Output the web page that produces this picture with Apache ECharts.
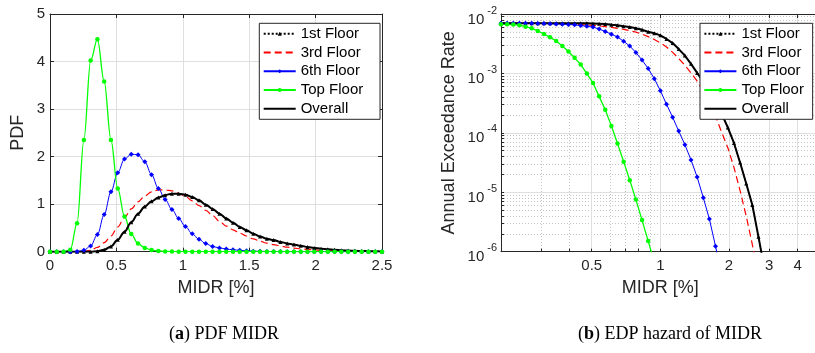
<!DOCTYPE html>
<html><head><meta charset="utf-8">
<script src="https://cdn.jsdelivr.net/npm/echarts@6/dist/echarts.min.js"></script>
<style>html,body{margin:0;padding:0;background:#fff}#c{width:815px;height:353px}</style>
</head><body><div id="c"></div>
<script>
// ---------- data ----------
const seriesNames = ['1st Floor', '3rd Floor', '6th Floor', 'Top Floor', 'Overall'];

// (a) PDF of MIDR
const pdfX = [0, 0.051, 0.102, 0.153, 0.204, 0.255, 0.306, 0.357, 0.408, 0.459, 0.510, 0.561, 0.612, 0.663, 0.714, 0.765, 0.816, 0.867, 0.918, 0.969, 1.020, 1.071, 1.122, 1.173, 1.224, 1.276, 1.327, 1.378, 1.429, 1.480, 1.531, 1.582, 1.633, 1.684, 1.735, 1.786, 1.837, 1.888, 1.939, 1.990, 2.041, 2.092, 2.143, 2.194, 2.245, 2.296, 2.347, 2.398, 2.449, 2.5];
const pdfOverall = [0, 0, 0, 0, 0, 0, 0, 0.01, 0.04, 0.11, 0.25, 0.42, 0.62, 0.80, 0.95, 1.06, 1.14, 1.19, 1.22, 1.22, 1.20, 1.15, 1.08, 0.99, 0.90, 0.80, 0.70, 0.61, 0.52, 0.45, 0.38, 0.32, 0.27, 0.245, 0.205, 0.175, 0.15, 0.125, 0.10, 0.08, 0.063, 0.05, 0.039, 0.03, 0.023, 0.018, 0.014, 0.011, 0.008, 0.006];
const pdf1st = [0, 0, 0, 0, 0, 0, 0, 0.01, 0.04, 0.11, 0.25, 0.42, 0.62, 0.80, 0.95, 1.06, 1.14, 1.19, 1.22, 1.22, 1.20, 1.15, 1.08, 0.99, 0.90, 0.80, 0.70, 0.61, 0.52, 0.45, 0.38, 0.32, 0.27, 0.245, 0.205, 0.175, 0.15, 0.125, 0.10, 0.08, 0.063, 0.05, 0.039, 0.03, 0.023, 0.018, 0.014, 0.011, 0.008, 0.006];
const pdf3rd = [0, 0, 0, 0, 0, 0.005, 0.03, 0.09, 0.19, 0.33, 0.52, 0.72, 0.90, 1.05, 1.17, 1.26, 1.30, 1.30, 1.28, 1.23, 1.16, 1.07, 0.97, 0.87, 0.76, 0.64, 0.54, 0.46, 0.39, 0.33, 0.27, 0.22, 0.18, 0.15, 0.12, 0.095, 0.075, 0.06, 0.047, 0.037, 0.029, 0.022, 0.017, 0.013, 0.01, 0.008, 0.006, 0.004, 0.003, 0.002];
const pdf6th = [0, 0, 0, 0, 0.005, 0.03, 0.12, 0.36, 0.78, 1.26, 1.66, 1.95, 2.05, 2.04, 1.89, 1.62, 1.33, 1.10, 0.89, 0.70, 0.53, 0.375, 0.26, 0.17, 0.11, 0.08, 0.055, 0.04, 0.03, 0.02, 0.012, 0.008, 0.005, 0.003, 0.002, 0.001, 0, 0, 0, 0, 0, 0, 0, 0, 0, 0, 0, 0, 0, 0];
const pdfTop = [0, 0, 0, 0.04, 0.6, 2.35, 4.02, 4.47, 3.58, 2.35, 1.33, 0.74, 0.37, 0.17, 0.08, 0.035, 0.015, 0.006, 0.002, 0.001, 0, 0, 0, 0, 0, 0, 0, 0, 0, 0, 0, 0, 0, 0, 0, 0, 0, 0, 0, 0, 0, 0, 0, 0, 0, 0, 0, 0, 0, 0];

// (b) EDP hazard of MIDR
const hazX = [0.2, 0.2128, 0.2264, 0.2408, 0.2562, 0.2726, 0.29, 0.3086, 0.3283, 0.3492, 0.3716, 0.3953, 0.4206, 0.4474, 0.476, 0.5064, 0.5388, 0.5732, 0.6098, 0.6488, 0.6902, 0.7343, 0.7812, 0.8312, 0.8843, 0.9408, 1.0, 1.064, 1.132, 1.204, 1.281, 1.363, 1.45, 1.543, 1.641, 1.746, 1.858, 1.977, 2.103, 2.237, 2.38, 2.532, 2.694, 2.866, 3.049, 3.244, 3.451, 3.672, 3.906, 4.156, 4.421, 4.704, 5.0];
const hazOverall = [6.97e-3, 6.97e-3, 6.97e-3, 6.97e-3, 6.97e-3, 6.97e-3, 6.97e-3, 6.97e-3, 6.97e-3, 6.97e-3, 6.97e-3, 6.97e-3, 6.97e-3, 6.97e-3, 6.97e-3, 6.93e-3, 6.87e-3, 6.76e-3, 6.6e-3, 6.46e-3, 6.24e-3, 6.03e-3, 5.75e-3, 5.43e-3, 5.01e-3, 4.73e-3, 4.37e-3, 3.80e-3, 3.24e-3, 2.57e-3, 2.0e-3, 1.45e-3, 1.02e-3, 7.24e-4, 5.01e-4, 3.31e-4, 2.09e-4, 1.23e-4, 6.76e-5, 3.16e-5, 1.41e-5, 6.1e-6, 1.78e-6, 5.0e-7];
const haz1st = [6.97e-3, 6.97e-3, 6.97e-3, 6.97e-3, 6.97e-3, 6.97e-3, 6.97e-3, 6.97e-3, 6.97e-3, 6.97e-3, 6.97e-3, 6.97e-3, 6.97e-3, 6.97e-3, 6.97e-3, 6.93e-3, 6.87e-3, 6.76e-3, 6.6e-3, 6.46e-3, 6.24e-3, 6.03e-3, 5.75e-3, 5.43e-3, 5.01e-3, 4.73e-3, 4.37e-3, 3.80e-3, 3.24e-3, 2.57e-3, 2.0e-3, 1.45e-3, 1.02e-3, 7.24e-4, 5.01e-4, 3.31e-4, 2.09e-4, 1.23e-4, 6.76e-5, 3.16e-5, 1.41e-5, 6.1e-6, 1.78e-6, 5.0e-7];
const haz3rd = [6.97e-3, 6.97e-3, 6.97e-3, 6.97e-3, 6.97e-3, 6.97e-3, 6.97e-3, 6.97e-3, 6.97e-3, 6.97e-3, 6.95e-3, 6.92e-3, 6.76e-3, 6.64e-3, 6.53e-3, 6.43e-3, 6.31e-3, 6.14e-3, 5.96e-3, 5.75e-3, 5.52e-3, 5.25e-3, 4.95e-3, 4.57e-3, 4.17e-3, 3.72e-3, 3.27e-3, 2.79e-3, 2.26e-3, 1.78e-3, 1.38e-3, 1.02e-3, 7.41e-4, 5.13e-4, 3.24e-4, 1.91e-4, 1.02e-4, 5.62e-5, 2.63e-5, 1.07e-5, 3.98e-6, 1.32e-6, 4.0e-7];
const haz6th = [6.97e-3, 6.97e-3, 6.97e-3, 6.97e-3, 6.97e-3, 6.97e-3, 6.92e-3, 6.90e-3, 6.84e-3, 6.79e-3, 6.74e-3, 6.66e-3, 6.58e-3, 6.38e-3, 6.21e-3, 6.02e-3, 5.58e-3, 5.09e-3, 4.57e-3, 4.10e-3, 3.48e-3, 2.89e-3, 2.25e-3, 1.68e-3, 1.21e-3, 8.17e-4, 5.13e-4, 3.03e-4, 1.83e-4, 1.07e-4, 6.33e-5, 3.50e-5, 1.81e-5, 8.11e-6, 3.54e-6, 1.24e-6, 4.0e-7];
const hazTop = [6.7e-3, 6.7e-3, 6.65e-3, 6.48e-3, 6.13e-3, 5.74e-3, 5.19e-3, 4.60e-3, 4.05e-3, 3.52e-3, 2.89e-3, 2.34e-3, 1.83e-3, 1.41e-3, 9.93e-4, 6.92e-4, 4.11e-4, 2.45e-4, 1.31e-4, 6.63e-5, 3.27e-5, 1.60e-5, 7.53e-6, 3.40e-6, 1.51e-6, 6.7e-7];

// tick labels
const pdfXTicks = [0, 0.5, 1, 1.5, 2, 2.5];
const pdfYTicks = [0, 1, 2, 3, 4, 5];
const hazXTickLabels = [0.5, 1, 2, 3, 4];
const hazXMinorTicks = [0.2, 0.3, 0.4, 0.5, 0.6, 0.7, 0.8, 0.9, 1, 2, 3, 4, 5];
const hazYTickLabels = [1e-6, 1e-5, 1e-4, 1e-3, 1e-2];

// ---------- chart ----------
const FONT = '"Liberation Sans", Arial, Helvetica, sans-serif';
const SERIF = '"Liberation Serif", "Times New Roman", Times, serif';
const AX = '#262626';
const MAJOR = '#dfdfdf';
const MINOR = '#c4c4c4';

const hazYMinorTicks = [];
for (let d = -6; d <= -3; d++) {
  for (let m = 1; m <= 9; m++) hazYMinorTicks.push(+(m * Math.pow(10, d)).toPrecision(3));
}
hazYMinorTicks.push(1e-2);

const styles = {
  '1st Floor': {color: '#000000', type: 'dotted', width: 1, symbol: 'triangle', size: 4},
  '3rd Floor': {color: '#ff0000', type: [7, 4], width: 1.2, symbol: 'none', size: 0},
  '6th Floor': {color: '#0000ff', type: 'solid', width: 1, symbol: 'diamond', size: 5},
  'Top Floor': {color: '#00ff00', type: 'solid', width: 1.3, symbol: 'circle', size: 4.5},
  'Overall':   {color: '#000000', type: 'solid', width: 2, symbol: 'none', size: 0}
};

function mkSeries(name, data, xi, yi, smooth) {
  const s = styles[name];
  return {
    type: 'line', name: name, xAxisIndex: xi, yAxisIndex: yi, data: data,
    smooth: smooth ? 0.35 : false, smoothMonotone: smooth ? 'x' : undefined,
    symbol: s.symbol, symbolSize: s.size, showSymbol: s.symbol !== 'none',
    lineStyle: {color: s.color, width: s.width, type: s.type},
    itemStyle: {color: s.color, borderWidth: 0},
    emphasis: {disabled: true}, clip: true, animation: false
  };
}
const zipXY = (xs, ys) => ys.map((v, i) => [xs[i], v]);

const pdfSets = [pdf1st, pdf3rd, pdf6th, pdfTop, pdfOverall];
const hazSets = [haz1st, haz3rd, haz6th, hazTop, hazOverall];
const series = [];
seriesNames.forEach((n, i) => series.push(mkSeries(n, zipXY(pdfX, pdfSets[i]), 0, 0, true)));
seriesNames.forEach((n, i) => series.push(mkSeries(n, zipXY(hazX, hazSets[i]), 2, 2, false)));

const tickStyle = {show: true, inside: true, length: 4, lineStyle: {color: AX, width: 1}};
const lineStyleAx = {show: true, onZero: false, lineStyle: {color: AX, width: 1}};
const labelStyle = {color: AX, fontFamily: FONT, fontSize: 15};
const nameStyle = {color: AX, fontFamily: FONT, fontSize: 18};

// legend entries: symbol-less series get an invisible marker
const legendData = seriesNames.map(n => styles[n].symbol === 'none'
  ? {name: n, itemStyle: {opacity: 0}}
  : {name: n});

const legendBase = {
  data: legendData, orient: 'vertical', top: 23.3,
  itemWidth: 32, itemHeight: 5, itemGap: 3.75,
  backgroundColor: '#ffffff', borderColor: AX, borderWidth: 1, borderRadius: 0,
  textStyle: {fontFamily: FONT, fontSize: 15, color: '#000'},
  selectedMode: false
};

const option = {
  backgroundColor: '#ffffff',
  animation: false,
  grid: [
    {left: 50, top: 14, width: 332, height: 237.7, outerBoundsMode: 'none', containLabel: false},
    {left: 501, top: 14, width: 318.7, height: 237.7, outerBoundsMode: 'none', containLabel: false}
  ],
  xAxis: [
    {type: 'value', gridIndex: 0, position: 'bottom', min: pdfXTicks[0], max: pdfXTicks[pdfXTicks.length - 1], interval: 0.5,
     axisLine: lineStyleAx, axisTick: tickStyle,
     axisLabel: Object.assign({margin: 7}, labelStyle),
     splitLine: {show: true, lineStyle: {color: MAJOR, width: 1}},
     name: 'MIDR [%]', nameLocation: 'middle', nameGap: 25, nameTextStyle: nameStyle},
    {type: 'value', gridIndex: 0, position: 'top', min: 0, max: 2.5, interval: 0.5,
     axisLine: lineStyleAx, axisTick: tickStyle, axisLabel: {show: false}, splitLine: {show: false}},
    {type: 'log', logBase: 10, gridIndex: 1, position: 'bottom', min: 0.2, max: 5,
     axisLine: lineStyleAx,
     axisTick: Object.assign({}, tickStyle, {length: 3, customValues: hazXMinorTicks}),
     axisLabel: Object.assign({margin: 7, customValues: hazXTickLabels, formatter: v => String(+(+v).toPrecision(3))}, labelStyle),
     splitLine: {show: true, lineStyle: {color: MINOR, width: 1, type: [1, 2]}},
     name: 'MIDR [%]', nameLocation: 'middle', nameGap: 25, nameTextStyle: nameStyle},
    {type: 'log', logBase: 10, gridIndex: 1, position: 'top', min: 0.2, max: 5,
     axisLine: lineStyleAx,
     axisTick: Object.assign({}, tickStyle, {customValues: hazXTickLabels}),
     axisLabel: {show: false},
     splitLine: {show: true, lineStyle: {color: MAJOR, width: 1}}}
  ],
  yAxis: [
    {type: 'value', gridIndex: 0, position: 'left', min: pdfYTicks[0], max: pdfYTicks[pdfYTicks.length - 1], interval: 1,
     axisLine: lineStyleAx, axisTick: tickStyle,
     axisLabel: Object.assign({margin: 5}, labelStyle),
     splitLine: {show: true, lineStyle: {color: MAJOR, width: 1}},
     name: 'PDF', nameLocation: 'middle', nameGap: 23, nameRotate: 90, nameTextStyle: nameStyle},
    {type: 'value', gridIndex: 0, position: 'right', min: 0, max: 5, interval: 1,
     axisLine: lineStyleAx, axisTick: tickStyle, axisLabel: {show: false}, splitLine: {show: false}},
    {type: 'log', logBase: 10, gridIndex: 1, position: 'left', min: 1e-6, max: 1e-2,
     axisLine: lineStyleAx,
     axisTick: Object.assign({}, tickStyle, {length: 3, customValues: hazYMinorTicks}),
     axisLabel: {
       customValues: hazYTickLabels, margin: 4, padding: [4, 0, 0, 0],
       formatter: v => '{b|10}{e|' + Math.round(Math.log10(v)) + '}',
       rich: {
         b: {fontFamily: FONT, fontSize: 15, color: AX, lineHeight: 22, verticalAlign: 'bottom'},
         e: {fontFamily: FONT, fontSize: 11, color: AX, lineHeight: 11, verticalAlign: 'top', padding: [0, 0, 0, 3]}
       }
     },
     splitLine: {show: true, lineStyle: {color: MINOR, width: 1, type: [1, 2]}},
     name: 'Annual Exceedance Rate', nameLocation: 'middle', nameGap: 43, nameRotate: 90, nameTextStyle: nameStyle},
    {type: 'log', logBase: 10, gridIndex: 1, position: 'right', min: 1e-6, max: 1e-2,
     axisLine: lineStyleAx,
     axisTick: Object.assign({}, tickStyle, {customValues: hazYTickLabels}),
     axisLabel: {show: false},
     splitLine: {show: true, lineStyle: {color: MAJOR, width: 1}}}
  ],
  legend: [
    Object.assign({}, legendBase, {left: 259.3, padding: [3, 16.8, 3, 3.4]}),
    Object.assign({}, legendBase, {left: 700, padding: [3, 8.7, 3, 3.4]})
  ],
  graphic: [
    {type: 'text', x: 224, y: 334, silent: true,
     style: {text: '{p|(}{b|a}{p|) PDF MIDR}', align: 'center', verticalAlign: 'middle',
       textAlign: 'center', textVerticalAlign: 'middle',
       rich: {p: {fontFamily: SERIF, fontSize: 18, fill: '#000', color: '#000'},
              b: {fontFamily: SERIF, fontSize: 18, fontWeight: 'bold', fill: '#000', color: '#000'}}}},
    {type: 'text', x: 670, y: 334, silent: true,
     style: {text: '{p|(}{b|b}{p|) EDP hazard of MIDR}', align: 'center', verticalAlign: 'middle',
       textAlign: 'center', textVerticalAlign: 'middle',
       rich: {p: {fontFamily: SERIF, fontSize: 18, fill: '#000', color: '#000'},
              b: {fontFamily: SERIF, fontSize: 18, fontWeight: 'bold', fill: '#000', color: '#000'}}}}
  ],
  series: series
};

const chart = echarts.init(document.getElementById('c'), null, {renderer: 'canvas', width: 815, height: 353});
chart.setOption(option);
</script>
</body></html>
